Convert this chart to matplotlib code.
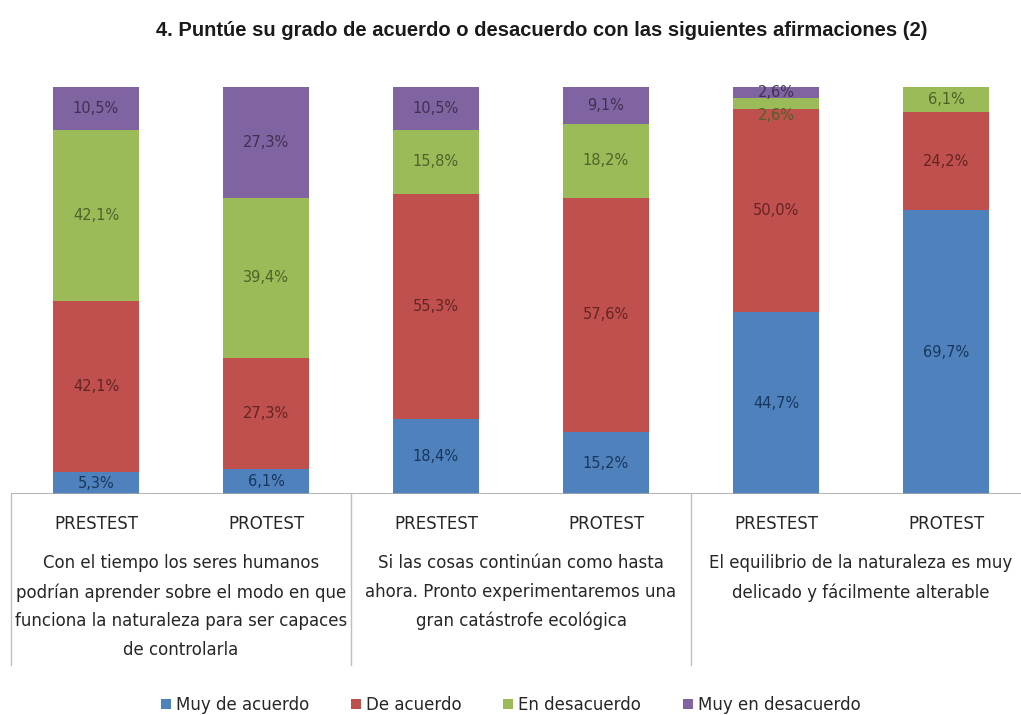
import numpy as np
import matplotlib.pyplot as plt
from matplotlib import font_manager

# Datos
series = ["Muy de acuerdo", "De acuerdo", "En desacuerdo", "Muy en desacuerdo"]
bars = ["PRESTEST", "PROTEST", "PRESTEST", "PROTEST", "PRESTEST", "PROTEST"]
muy_acuerdo = [5.3, 6.1, 18.4, 15.2, 44.7, 69.7]
de_acuerdo = [42.1, 27.3, 55.3, 57.6, 50.0, 24.2]
en_desacuerdo = [42.1, 39.4, 15.8, 18.2, 2.6, 6.1]
muy_desacuerdo = [10.5, 27.3, 10.5, 9.1, 2.6, 0.0]
grupos = ["Con el tiempo los seres humanos\npodrían aprender sobre el modo en que\nfunciona la naturaleza para ser capaces\nde controlarla",
          "Si las cosas continúan como hasta\nahora. Pronto experimentaremos una\ngran catástrofe ecológica",
          "El equilibrio de la naturaleza es muy\ndelicado y fácilmente alterable"]

colores = ["#4F81BD", "#C0504D", "#9BBB59", "#8064A2"]
col_txt = ["#17375E", "#632523", "#4F6228", "#3F3151"]

names = {f.name for f in font_manager.fontManager.ttflist}
fuente = "Liberation Sans Narrow" if "Liberation Sans Narrow" in names else "DejaVu Sans"
plt.rcParams['font.family'] = [fuente, 'DejaVu Sans']

fig = plt.figure(figsize=(10.21, 7.15), dpi=100)
ax = fig.add_axes([11/1021, 221/715, 1020/1021, 407/715])

x = np.arange(len(bars))
datos = [muy_acuerdo, de_acuerdo, en_desacuerdo, muy_desacuerdo]
base = np.zeros(len(bars))
for i, vals in enumerate(datos):
    vals = np.array(vals)
    ax.bar(x, vals, 0.506, bottom=base, color=colores[i], label=series[i])
    for j, v in enumerate(vals):
        if v <= 0:
            continue
        yy = base[j] + v / 2
        if i == 2 and v < 4:
            yy -= 3  # Excel desplaza la etiqueta pequeña
        ax.text(x[j], yy, f"{v:.1f}%".replace(".", ","), ha='center', va='center',
                fontsize=10.5, color=col_txt[i])
    base += vals

ax.set_xlim(-0.5, 5.5)
ax.set_ylim(0, 100)
for s in ax.spines.values():
    s.set_visible(False)
ax.set_yticks([])
ax.set_xticks([])
ax.axhline(0, color="#A6A6A6", lw=1.2)

tr = ax.get_xaxis_transform()
for xs in [-0.5, 1.5, 3.5]:
    ax.plot([xs, xs], [0, -0.42], color="#BFBFBF", lw=1, transform=tr, clip_on=False)
for j, b in enumerate(bars):
    ax.text(x[j], -0.074, b, ha='center', va='center', fontsize=12, color="#262626",
            transform=tr)
for g, txt in enumerate(grupos):
    ax.text(2 * g + 0.5, -0.148, txt, ha='center', va='top', fontsize=12,
            color="#262626", linespacing=1.75, transform=tr)

fig.text(542/1021, 1 - 30/715, "4. Puntúe su grado de acuerdo o desacuerdo con las siguientes afirmaciones (2)",
         ha='center', va='center', fontsize=14.5, fontweight='bold', family='Liberation Sans',
         color="#1a1a1a")

fig.legend(loc='center', bbox_to_anchor=(0.5, 1 - 705/715), ncol=4, frameon=False,
           fontsize=12, handlelength=0.6, handleheight=0.6, handletextpad=0.3,
           columnspacing=2.5, labelcolor="#262626")

fig.savefig("out.png", dpi=100)
